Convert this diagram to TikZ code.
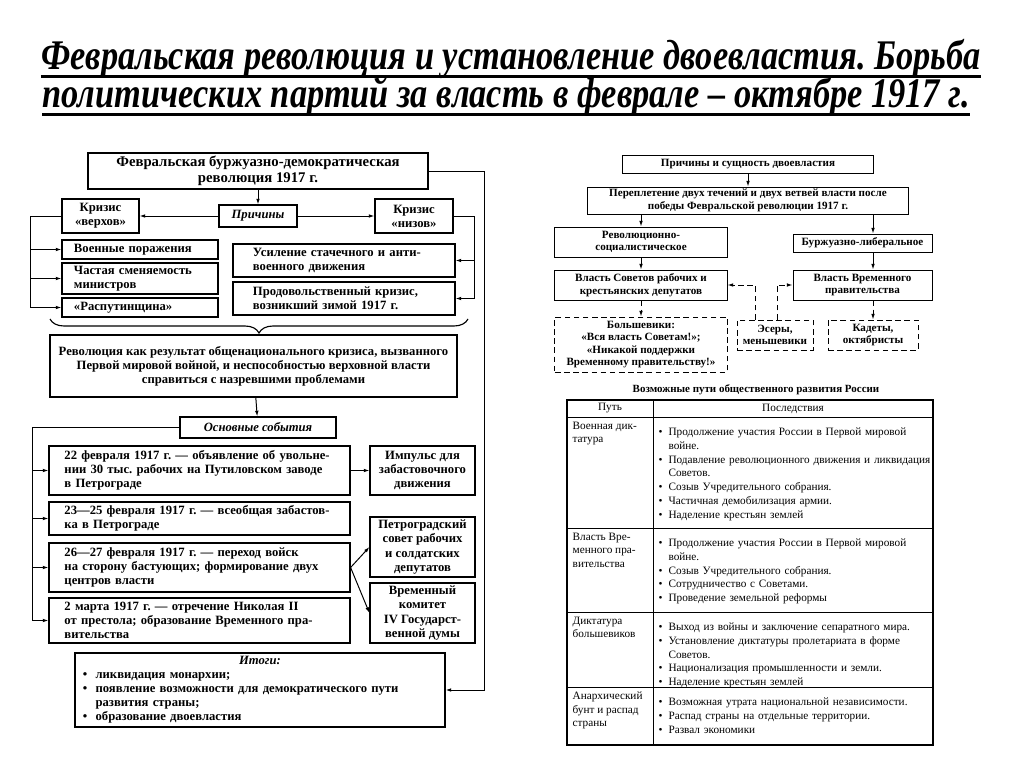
\documentclass[tikz,border=0pt]{standalone}
\usepackage{fontspec}
\setmainfont{Liberation Serif}
\newfontfamily\headfont[FakeStretch=0.815]{Liberation Serif}
\usetikzlibrary{arrows.meta, positioning, decorations.pathreplacing}
\frenchspacing

\newcommand{\leftfont}{\fontsize{9}{10}\selectfont\bfseries}
\newcommand{\rightfont}{\fontsize{7.9}{8.9}\selectfont\bfseries}
\newcommand{\tabfont}{\fontsize{8}{9.8}\selectfont}
\newcommand{\bitem}[2]{\par\noindent\hangindent=#1\hangafter=1\makebox[#1][l]{•}#2}
\newcommand{\tbul}[1]{\bitem{7pt}{#1}}

\begin{document}
\begin{tikzpicture}[
      x=0.025cm, y=-0.025cm,
      lbox/.style={rectangle, draw, line width=0.8pt, align=center, font=\leftfont, inner sep=1pt},
      lboxl/.style={lbox, align=left},
      cause/.style={lbox, font=\leftfont\itshape},
      colbox/.style={lboxl, text width=3.3cm, inner xsep=0.3cm},
      widebox/.style={lboxl, text width=4.55cm, inner xsep=0.5cm},
      evbox/.style={lboxl, text width=6.75cm, inner xsep=0.3875cm},
      rbox/.style={rectangle, draw, line width=0.7pt, align=center, font=\rightfont, inner sep=1pt},
      dbox/.style={rbox, dash pattern=on 4pt off 2.5pt},
      arr/.style={-{Latex[length=4pt,width=2.6pt]}, line width=0.7pt},
      darr/.style={arr, dash pattern=on 4pt off 2.5pt},
      cell/.style={anchor=north west, align=left, font=\tabfont, inner sep=1pt},
      uline/.style={line width=2pt},
      headline/.style={anchor=base, inner sep=0pt, font=\headfont\bfseries\itshape\fontsize{30}{34}\selectfont}
    ]
      \useasboundingbox (0,0) rectangle (1024,767);

      % title
      \node[headline] (title1) at (511,70) {Февральская революция и установление двоевластия. Борьба};
      \node[headline] (title2) at (506,108) {политических партий за власть в феврале – октябре 1917 г.};
      \draw[uline] ([yshift=-0.17cm]title1.base west) -- ([yshift=-0.17cm]title1.base east);
      \draw[uline] ([yshift=-0.17cm]title2.base west) -- ([yshift=-0.17cm]title2.base east);

      % left scheme
      \node[lbox, minimum width=8.5cm, minimum height=0.9cm, font=\fontsize{10.5}{11.5}\selectfont\bfseries] (rev) at (258,171) {Февральская буржуазно-демократическая\\революция 1917 г.};
      \node[cause, minimum width=1.95cm, minimum height=0.55cm] (causes) at (258,216) {Причины};
      \node[lbox, minimum width=1.925cm, minimum height=0.85cm] (upper) at (100.5,216) {Кризис\\«верхов»};
      \node[lbox, minimum width=1.95cm, minimum height=0.85cm] (lower) at (414,216) {Кризис\\«низов»};

      \node[colbox, minimum height=0.475cm] (defeats) at (140,249.5) {Военные поражения};
      \node[colbox, minimum height=0.775cm] (ministers) at (140,278.5) {Частая сменяемость\\министров};
      \node[colbox, minimum height=0.475cm] (rasp) at (140,307.5) {«Распутинщина»};
      \node[widebox, minimum height=0.825cm] (strikes) at (344,260.5) {Усиление стачечного и анти-\\военного движения};
      \node[widebox, minimum height=0.825cm] (food) at (344,298.5) {Продовольственный кризис,\\возникший зимой 1917 г.};

      \draw[decorate, decoration={brace, amplitude=0.35cm}, line width=0.8pt] (468,319) -- (50,319);

      \node[lbox, minimum width=10.175cm, minimum height=1.55cm] (crisis) at (253.5,366) {Революция как результат общенационального кризиса, вызванного\\Первой мировой войной, и неспособностью верховной власти\\справиться с назревшими проблемами};
      \node[cause, minimum width=3.9cm, minimum height=0.525cm] (evhead) at (258,427.5) {Основные события};

      \node[evbox, minimum height=1.225cm] (ev1) at (199.5,470.5) {22 февраля 1917 г. — объявление об увольне-\\нии 30 тыс. рабочих на Путиловском заводе\\в Петрограде};
      \node[evbox, minimum height=0.825cm] (ev2) at (199.5,518.5) {23—25 февраля 1917 г. — всеобщая забастов-\\ка в Петрограде};
      \node[evbox, minimum height=1.225cm] (ev3) at (199.5,567.5) {26—27 февраля 1917 г. — переход войск\\на сторону бастующих; формирование двух\\центров власти};
      \node[evbox, minimum height=1.125cm] (ev4) at (199.5,620.5) {2 марта 1917 г. — отречение Николая II\\от престола; образование Временного пра-\\вительства};

      \node[lbox, minimum width=2.625cm, minimum height=1.225cm] (impulse) at (422.5,470.5) {Импульс для\\забастовочного\\движения};
      \node[lbox, minimum width=2.625cm, minimum height=1.5cm] (petrosoviet) at (422.5,547) {Петроградский\\совет рабочих\\и солдатских\\депутатов};
      \node[lbox, minimum width=2.625cm, minimum height=1.5cm] (committee) at (422.5,613) {Временный\\комитет\\IV Государст-\\венной думы};

      \node[lbox, align=left, text width=8.85cm, inner xsep=0.2cm, inner ysep=2pt, minimum height=1.85cm] (results) at (260,690) {\noindent\makebox[\hsize][c]{\itshape Итоги:}\bitem{9pt}{ликвидация монархии;}\bitem{9pt}{появление возможности для демократического пути\newline развития страны;}\bitem{9pt}{образование двоевластия}};

      \draw[arr] (rev) -- (causes);
      \draw[arr] (causes) -- (upper);
      \draw[arr] (causes) -- (lower);
      \coordinate (lbus) at (30,216);
      \draw[arr] (upper.west) -- (lbus) |- (rasp.west);
      \draw[arr] (lbus |- defeats.west) -- (defeats.west);
      \draw[arr] (lbus |- ministers.west) -- (ministers.west);
      \coordinate (rbus) at (474,216);
      \draw[arr] (lower.east) -- (rbus) |- (food.east);
      \draw[arr] (rbus |- strikes.east) -- (strikes.east);

      \draw[arr] (crisis) -- (evhead);
      \coordinate (ebus) at (32,427.5);
      \draw[arr] (evhead.west) -- (ebus) |- (ev4.west);
      \draw[arr] (ebus |- ev1.west) -- (ev1.west);
      \draw[arr] (ebus |- ev2.west) -- (ev2.west);
      \draw[arr] (ebus |- ev3.west) -- (ev3.west);
      \draw[arr] (ev1) -- (impulse);
      \draw[arr] (ev3.east) -- (petrosoviet.west);
      \draw[arr] (ev3.east) -- (committee.west);
      \coordinate (loop) at (484,171);
      \draw[arr] (rev.east) -- (loop) |- (results.east);

      % right scheme
      \node[rbox, minimum width=6.25cm, minimum height=0.45cm] (dualtitle) at (748,164) {Причины и сущность двоевластия};
      \node[rbox, minimum width=8cm, minimum height=0.675cm] (interweave) at (748,200.5) {Переплетение двух течений и двух ветвей власти после\\победы Февральской революции 1917 г.};
      \node[rbox, minimum width=4.3cm, minimum height=0.75cm] (revsoc) at (641,242) {Революционно-\\социалистическое};
      \node[rbox, minimum width=3.475cm, minimum height=0.45cm] (liberal) at (862.5,243) {Буржуазно-либеральное};
      \node[rbox, minimum width=4.3cm, minimum height=0.75cm] (sovietpower) at (641,285) {Власть Советов рабочих и\\крестьянских депутатов};
      \node[rbox, minimum width=3.475cm, minimum height=0.75cm] (provgov) at (862.5,285) {Власть Временного\\правительства};
      \node[dbox, minimum width=4.3cm, minimum height=1.375cm] (bolsheviks) at (641,344.5) {Большевики:\\«Вся власть Советам!»;\\«Никакой поддержки\\Временному правительству!»};
      \node[dbox, minimum width=1.9cm, minimum height=0.75cm] (srs) at (775,335) {Эсеры,\\меньшевики};
      \node[dbox, minimum width=2.25cm, minimum height=0.75cm] (kadets) at (873,335) {Кадеты,\\октябристы};

      \draw[arr] (dualtitle) -- (interweave);
      \draw[arr] (revsoc.north |- interweave.south) -- (revsoc.north);
      \draw[arr] (kadets.north |- interweave.south) -- (kadets.north |- liberal.north);
      \draw[arr] (revsoc) -- (sovietpower);
      \draw[arr] (kadets.north |- liberal.south) -- (kadets.north |- provgov.north);
      \draw[darr] (sovietpower) -- (bolsheviks);
      \draw[darr] (kadets.north |- provgov.south) -- (kadets.north);
      \draw[darr] ([xshift=-0.5cm]srs.north) |- (sovietpower.east);
      \draw[darr] ([xshift=0.05cm]srs.north) |- (provgov.west);

      % table
      \node[font=\fontsize{7.8}{9}\selectfont\bfseries] (tabtitle) at (756,390) {Возможные пути общественного развития России};
      \draw[line width=0.8pt] (567,400) rectangle (933,745);
      \draw[line width=0.6pt] (653,400) -- (653,745);
      \foreach \y in {417,528,612,687}
        \draw[line width=0.6pt] (567,\y) -- (933,\y);
      \node[font=\tabfont] (pathhead) at (610,408.5) {Путь};
      \node[font=\tabfont] (effhead) at (793,408.5) {Последствия};

      \node[cell] (path1) at (571,420) {Военная дик-\\татура};
      \node[cell, text width=6.85cm] (eff1) at (657,420) {\tbul{Продолжение участия России в Первой мировой\newline войне.}\tbul{Подавление революционного движения и ликвидация\newline Советов.}\tbul{Созыв Учредительного собрания.}\tbul{Частичная демобилизация армии.}\tbul{Наделение крестьян землей}};
      \node[cell] (path2) at (571,531) {Власть Вре-\\менного пра-\\вительства};
      \node[cell, text width=6.85cm] (eff2) at (657,531) {\tbul{Продолжение участия России в Первой мировой\newline войне.}\tbul{Созыв Учредительного собрания.}\tbul{Сотрудничество с Советами.}\tbul{Проведение земельной реформы}};
      \node[cell] (path3) at (571,615) {Диктатура\\большевиков};
      \node[cell, text width=6.85cm] (eff3) at (657,615) {\tbul{Выход из войны и заключение сепаратного мира.}\tbul{Установление диктатуры пролетариата в форме\newline Советов.}\tbul{Национализация промышленности и земли.}\tbul{Наделение крестьян землей}};
      \node[cell] (path4) at (571,690) {Анархический\\бунт и распад\\страны};
      \node[cell, text width=6.85cm] (eff4) at (657,690) {\tbul{Возможная утрата национальной независимости.}\tbul{Распад страны на отдельные территории.}\tbul{Развал экономики}};
    \end{tikzpicture}
\end{document}
